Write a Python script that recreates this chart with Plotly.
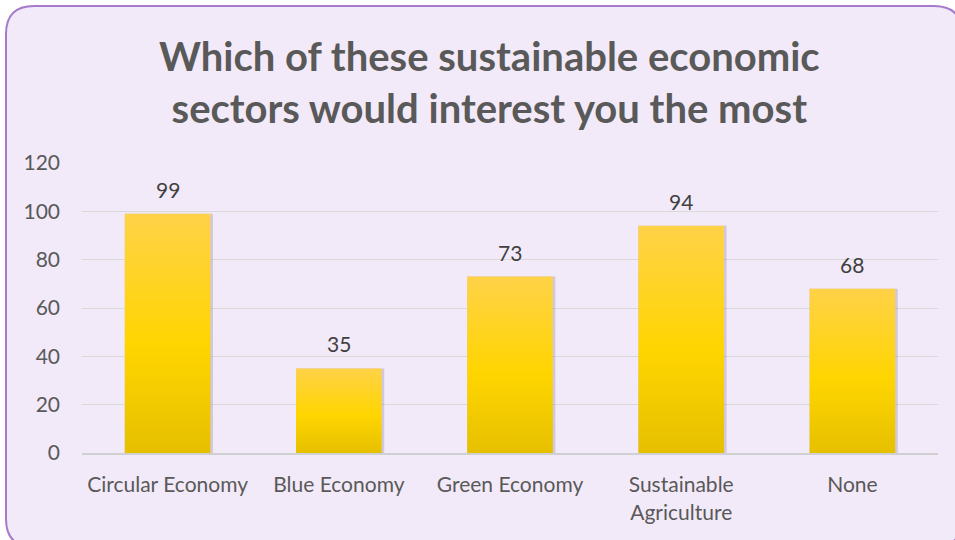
import plotly.graph_objects as go

categories = ["Circular Economy", "Blue Economy", "Green Economy", "Sustainable<br>Agriculture", "None"]
values = [99, 35, 73, 94, 68]
y_ticks = [0, 20, 40, 60, 80, 100, 120]
title_text = "Which of these sustainable economic<br>sectors would interest you the most"

W, H = 955, 540
L, R, T, B = 82, 17, 163, 87
pw, ph = W - L - R, H - T - B

def px(x):
    return (x - L) / pw

def py(y):
    return (H - B - y) / ph

fig = go.Figure()

half = 0.25
# soft shadow to the right of each bar
fig.add_trace(go.Bar(x=list(range(len(values))), y=values, width=0.515, offset=-0.25,
                     marker=dict(color="rgba(110,100,130,0.25)", line=dict(width=0)),
                     hoverinfo="skip", showlegend=False))

for i, v in enumerate(values):
    fig.add_trace(go.Scatter(
        x=[i - half, i - half, i + half, i + half, i - half],
        y=[0, v, v, 0, 0], mode="lines", fill="toself",
        line=dict(width=0, color="rgba(0,0,0,0)"),
        fillgradient=dict(type="vertical",
                          colorscale=[[0, "#E6C000"], [0.45, "#FFD500"], [1, "#FFD248"]]),
        hoverinfo="skip", showlegend=False))

for i, v in enumerate(values):
    fig.add_annotation(x=i, y=v, text=str(v), showarrow=False, yanchor="bottom",
                       yshift=10, font=dict(family="Lato", size=21, color="#404040"))

# rounded frame
x0, x1, y0, y1, r = 6, 962, 6, 547, 28
path = (f"M {px(x0 + r)},{py(y0)} L {px(x1 - r)},{py(y0)} Q {px(x1)},{py(y0)} {px(x1)},{py(y0 + r)} "
        f"L {px(x1)},{py(y1 - r)} Q {px(x1)},{py(y1)} {px(x1 - r)},{py(y1)} "
        f"L {px(x0 + r)},{py(y1)} Q {px(x0)},{py(y1)} {px(x0)},{py(y1 - r)} "
        f"L {px(x0)},{py(y0 + r)} Q {px(x0)},{py(y0)} {px(x0 + r)},{py(y0)} Z")
fig.add_shape(type="path", path=path, xref="paper", yref="paper", layer="below",
              fillcolor="#F2EAF8", line=dict(color="#A77BCB", width=2))

fig.add_annotation(x=px(489), y=py(82), xref="paper", yref="paper", text=title_text,
                   showarrow=False, xanchor="center", yanchor="middle",
                   font=dict(family="Lato", size=40, color="#595959", weight="bold"))

fig.update_layout(
    width=W, height=H, margin=dict(l=L, r=R, t=T, b=B),
    paper_bgcolor="white", plot_bgcolor="rgba(0,0,0,0)",
    barmode="overlay", showlegend=False,
    xaxis=dict(range=[-0.5, len(values) - 0.5], tickvals=list(range(len(values))),
               ticktext=categories, showgrid=False, zeroline=False,
               showline=True, linecolor="#D0D0D0", linewidth=2, ticks="",
               ticklabelstandoff=12,
               tickfont=dict(family="Lato", size=21, color="#595959"), fixedrange=True),
    yaxis=dict(range=[0, 120], tickvals=y_ticks, showgrid=True, gridcolor="#D9D9D9",
               gridwidth=1, zeroline=False, showline=False, ticks="",
               ticklabelstandoff=21,
               tickfont=dict(family="Lato", size=21, color="#595959"), fixedrange=True),
)

fig.write_html("out.html")
